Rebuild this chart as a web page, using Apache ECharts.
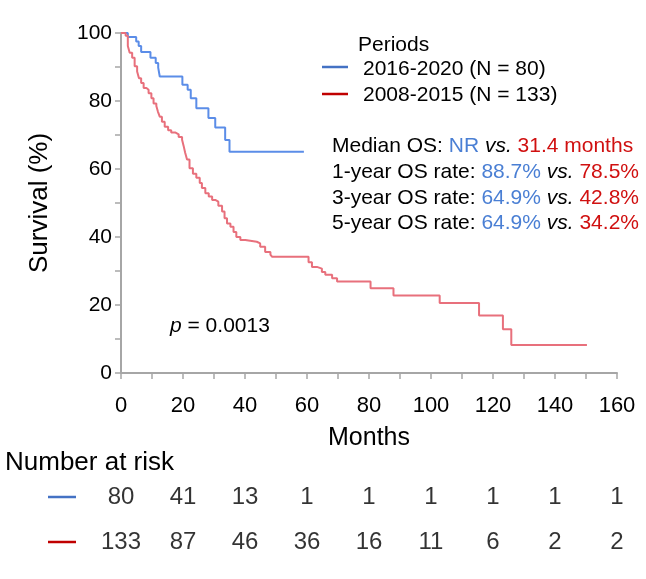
<!DOCTYPE html>
<html>
<head>
<meta charset="utf-8">
<script src="https://cdn.jsdelivr.net/npm/echarts@6/dist/echarts.min.js"></script>
<style>
  html, body { margin: 0; padding: 0; background: #fff; }
  #chart { width: 646px; height: 579px; }
</style>
</head>
<body>
<div id="chart"></div>
<script>
// Kaplan-Meier steps: month of each drop, survival (%) after it
const blueMonths = [0, 2.2, 4.9, 5.7, 6.5, 9.5, 11.2, 12, 12.5, 19.8, 21.5, 22.5, 24.3, 28.2, 30.4, 33.6, 35, 59];
const blueSurv   = [100, 98.8, 97.5, 96.2, 94.4, 92.7, 91.2, 89.8, 87.2, 84.8, 83.3, 80.8, 77.9, 75, 72.2, 68.5, 65.1, 65.1];

const redMonths = [0, 1.5, 2.2, 2.8, 3.6, 4.4, 5.2, 5.8, 6.5, 7.3, 8.2, 8.9, 9.8, 10.5, 11.4, 11.9, 12.5, 13.2, 14.1,
  15.2, 16.2, 17.6, 18.6, 19.7, 20.2, 20.7, 21.3, 22.1, 23.2, 24.3, 25.4, 26.1, 27.2, 28.3, 29.4, 30.4, 31.4, 32.6,
  33.4, 34.2, 35.3, 36.3, 37.2, 38.5, 40.1, 43.8, 44.9, 46.5, 48.2, 48.7, 60.5, 61.6, 63.2, 64.8, 65.9, 68.1, 69.7,
  80.5, 87.9, 102.8, 115.5, 123.2, 125.9, 150.3];
const redSurv = [100, 99.2, 96.2, 94.2, 92.7, 90.2, 88.7, 86.7, 85.3, 83.8, 83.3, 82.3, 80.8, 79.3, 78.5, 76.9, 75.4, 73.9, 72.4,
  71.4, 70.7, 70.2, 69.4, 68.6, 66.8, 64.8, 62.8, 60.2, 58.6, 57.4, 55.9, 54.4, 52.9, 51.9, 50.9, 50.4, 49.2, 47.5,
  45.5, 44, 43, 41.5, 40, 39.1, 38.6, 38.1, 37.1, 35.6, 34.8, 34.2, 32.6, 31.2, 30.7, 29.7, 28.9, 27.9, 26.9,
  24.9, 22.8, 20.6, 16.9, 12.9, 8.2, 8.2];

// number at risk table
const riskMonths = [0, 20, 40, 60, 80, 100, 120, 140, 160];
const riskGroups = ['2008-2015', '2016-2020'];
const riskBlue = [80, 41, 13, 1, 1, 1, 1, 1, 1];
const riskRed  = [133, 87, 46, 36, 16, 11, 6, 2, 2];

const font = '"Liberation Sans", Arial, sans-serif';
const axisGray = '#a6a6a6';
const blueCurve = '#5b8de8';
const redCurve = '#e8707c';
const blueText = '#4a7fd4';
const redText = '#d01010';

const chart = echarts.init(document.getElementById('chart'));

const riskLabel = {
  show: true,
  position: 'inside',
  formatter: (p) => String(p.value[2]),
  fontSize: 24,
  fontFamily: font,
  color: '#000'
};

const statRich = {
  k: { fill: '#000', fontSize: 21, fontFamily: font },
  b: { fill: blueText, fontSize: 21, fontFamily: font },
  r: { fill: redText, fontSize: 21, fontFamily: font },
  i: { fill: '#000', fontSize: 21, fontFamily: font, fontStyle: 'italic' }
};
const statLine = (y, label, a, b) => ({
  type: 'text',
  x: 332,
  y: y,
  style: {
    text: '{k|' + label + '}{b|' + a + '}{i| vs. }{r|' + b + '}',
    rich: statRich,
    verticalAlign: 'middle'
  }
});

const option = {
  animation: false,
  textStyle: { fontFamily: font },
  grid: [
    { left: 121, right: 29, top: 33, bottom: 206 },
    { left: 121, right: 29, top: 475, height: 90 }
  ],
  xAxis: [
    {
      type: 'value', gridIndex: 0, min: 0, max: 160, interval: 10,
      name: 'Months', nameLocation: 'middle', nameGap: 53,
      nameTextStyle: { fontSize: 25, color: '#000', fontFamily: font },
      axisLine: { lineStyle: { color: axisGray, width: 2 } },
      axisTick: { length: 6, lineStyle: { color: axisGray, width: 1.5 } },
      axisLabel: {
        fontSize: 22, color: '#000', margin: 22, fontFamily: font,
        formatter: (v) => (v % 20 === 0 ? String(v) : '')
      },
      splitLine: { show: false }
    },
    { type: 'value', gridIndex: 1, min: 0, max: 160, show: false }
  ],
  yAxis: [
    {
      type: 'value', gridIndex: 0, min: 0, max: 100, interval: 10,
      name: 'Survival (%)', nameLocation: 'middle', nameGap: 68, nameRotate: 90,
      nameTextStyle: { fontSize: 26, color: '#000', fontFamily: font },
      axisLine: { show: true, lineStyle: { color: axisGray, width: 2 } },
      axisTick: { show: true, length: 6, lineStyle: { color: axisGray, width: 1.5 } },
      axisLabel: {
        fontSize: 21, color: '#000', margin: 9, fontFamily: font,
        formatter: (v) => (v % 20 === 0 ? String(v) : '')
      },
      splitLine: { show: false }
    },
    { type: 'category', gridIndex: 1, data: riskGroups, show: false }
  ],
  series: [
    {
      name: '2016-2020', type: 'line', step: 'end', symbol: 'none',
      xAxisIndex: 0, yAxisIndex: 0,
      lineStyle: { color: blueCurve, width: 2 },
      data: blueMonths.map((m, i) => [m, blueSurv[i]])
    },
    {
      name: '2008-2015', type: 'line', step: 'end', symbol: 'none',
      xAxisIndex: 0, yAxisIndex: 0,
      lineStyle: { color: redCurve, width: 2 },
      data: redMonths.map((m, i) => [m, redSurv[i]])
    },
    {
      type: 'scatter', xAxisIndex: 1, yAxisIndex: 1, symbolSize: 1,
      itemStyle: { color: 'rgba(0,0,0,0)' },
      label: riskLabel,
      data: riskMonths.map((m, i) => [m, '2016-2020', riskBlue[i]])
    },
    {
      type: 'scatter', xAxisIndex: 1, yAxisIndex: 1, symbolSize: 1,
      itemStyle: { color: 'rgba(0,0,0,0)' },
      label: riskLabel,
      data: riskMonths.map((m, i) => [m, '2008-2015', riskRed[i]])
    }
  ],
  graphic: [
    // legend
    { type: 'text', x: 358, y: 45, style: { text: 'Periods', fontSize: 21, fontFamily: font, fill: '#000', verticalAlign: 'middle' } },
    { type: 'line', shape: { x1: 322, y1: 67, x2: 348, y2: 67 }, style: { stroke: '#4472c4', lineWidth: 2.5 } },
    { type: 'text', x: 363, y: 69, style: { text: '2016-2020 (N = 80)', fontSize: 21, fontFamily: font, fill: '#000', verticalAlign: 'middle' } },
    { type: 'line', shape: { x1: 322, y1: 94, x2: 348, y2: 94 }, style: { stroke: '#c00000', lineWidth: 2.5 } },
    { type: 'text', x: 363, y: 95, style: { text: '2008-2015 (N = 133)', fontSize: 21, fontFamily: font, fill: '#000', verticalAlign: 'middle' } },
    // survival summary
    statLine(146, 'Median OS: ', 'NR', '31.4 months'),
    statLine(172, '1-year OS rate: ', '88.7%', '78.5%'),
    statLine(198, '3-year OS rate: ', '64.9%', '42.8%'),
    statLine(223, '5-year OS rate: ', '64.9%', '34.2%'),
    // p value
    {
      type: 'text', x: 170, y: 326,
      style: {
        text: '{i|p}{k| = 0.0013}',
        rich: statRich,
        verticalAlign: 'middle'
      }
    },
    // number at risk
    { type: 'text', x: 5, y: 463, style: { text: 'Number at risk', fontSize: 26, fontFamily: font, fill: '#000', verticalAlign: 'middle' } },
    { type: 'line', shape: { x1: 48, y1: 497, x2: 76, y2: 497 }, style: { stroke: '#4472c4', lineWidth: 2.5 } },
    { type: 'line', shape: { x1: 48, y1: 542, x2: 76, y2: 542 }, style: { stroke: '#c00000', lineWidth: 2.5 } }
  ]
};

chart.setOption(option);
</script>
</body>
</html>
